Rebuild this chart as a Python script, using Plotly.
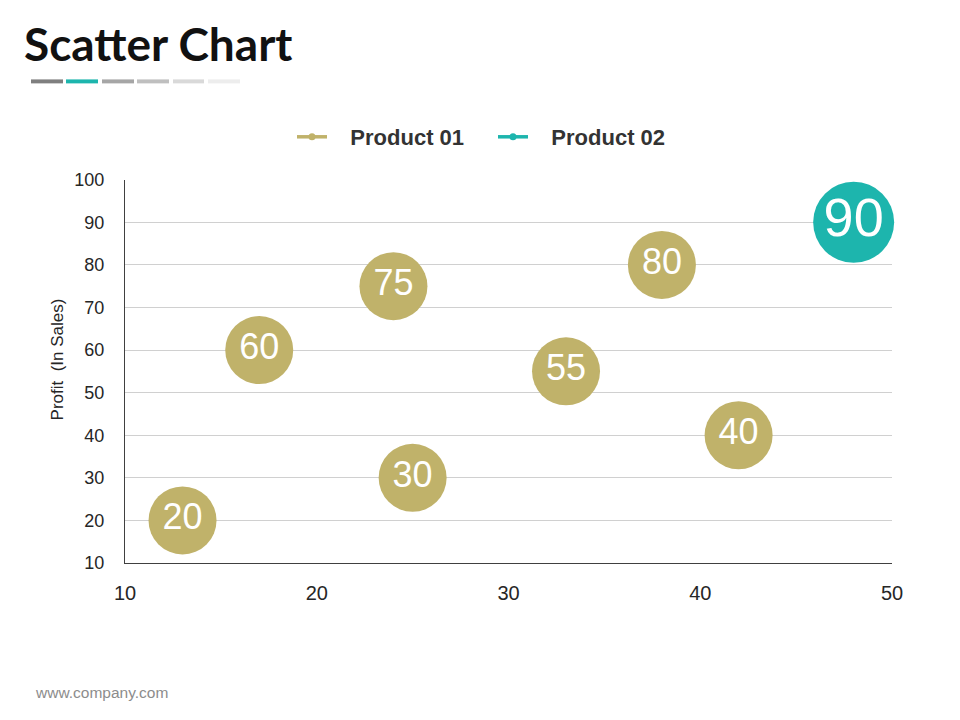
import plotly.graph_objects as go

# values
p1_x = [13, 17, 24, 25, 33, 38, 42]
p1_y = [20, 60, 75, 30, 55, 80, 40]
p2_x = [48]
p2_y = [90]

names = ['Product 01', 'Product 02']
gold = '#C0B26A'
teal = '#1DB5AD'

# page is drawn 8px in from the window corner
OFF = 8
W, H = 960, 720
# plot area in window pixels
L, R, T, B = 125 - OFF, 892 - OFF, 177 - OFF, 563 - OFF

def px(x):
    return (x - OFF - L) / (R - L)

def py(y):
    return (B - (y - OFF)) / (B - T)

fig = go.Figure()

fig.add_trace(go.Scatter(
    x=p1_x, y=p1_y,
    mode='markers+text',
    text=[str(v) for v in p1_y],
    textposition='middle center',
    textfont=dict(family='Liberation Sans, Arial', size=36, color='white'),
    marker=dict(size=68, color=gold, line=dict(width=0)),
    showlegend=False, hoverinfo='x+y'))

fig.add_trace(go.Scatter(
    x=p2_x, y=p2_y,
    mode='markers+text',
    text=[str(v) for v in p2_y],
    textposition='middle center',
    textfont=dict(family='Liberation Sans, Arial', size=54, color='white'),
    marker=dict(size=81, color=teal, line=dict(width=0)),
    showlegend=False, hoverinfo='x+y'))

# legend-only entries (line with small dot)
for nm, c in zip(names, [gold, teal]):
    fig.add_trace(go.Scatter(
        x=[None], y=[None], name='\u00a0\u00a0\u00a0<b>' + nm + '</b>',
        mode='lines+markers',
        line=dict(color=c, width=3.5),
        marker=dict(color=c, size=7)))

#---------

shapes = []
bars = [(31, 63, '#7F7F7F'), (66, 98, teal), (102, 134, '#A6A6A6'),
        (137, 169, '#BFBFBF'), (173, 204, '#D9D9D9'), (208, 240, '#EDEDED')]
for x0, x1, c in bars:
    shapes.append(dict(
        type='rect', xref='paper', yref='paper',
        x0=px(x0), x1=px(x1), y0=py(80), y1=py(76),
        fillcolor=c, line=dict(width=0), layer='above'))

annotations = [
    dict(text='<b>Scatter Chart</b>', xref='paper', yref='paper',
         x=px(22), y=py(40), xanchor='left', yanchor='middle',
         showarrow=False,
         font=dict(family='Lato, Open Sans', size=46, color='#111111')),
    dict(text='www.company.com', xref='paper', yref='paper',
         x=px(33), y=py(693), xanchor='left', yanchor='middle',
         showarrow=False,
         font=dict(family='Liberation Sans, Arial', size=15.5, color='#8C8C8C')),
    dict(text='Profit  (In Sales)', xref='paper', yref='paper',
         x=px(57), y=py(358), xanchor='center', yanchor='middle',
         textangle=-90, showarrow=False,
         font=dict(family='Liberation Sans, Arial', size=17, color='#262626')),
]

fig.update_layout(
    width=W, height=H,
    margin=dict(l=L, r=W - R, t=T, b=H - B, pad=0),
    paper_bgcolor='white', plot_bgcolor='white',
    font=dict(family='Liberation Sans, Arial', color='#404040'),
    showlegend=True,
    legend=dict(
        orientation='h', xref='container', yref='container',
        x=(292 - OFF) / W, y=1 - (137 - OFF) / H,
        xanchor='left', yanchor='middle',
        font=dict(family='Liberation Sans, Arial', size=22, color='#333333'),
        entrywidth=156, traceorder='normal'),
    xaxis=dict(
        range=[10, 50], dtick=10, tick0=10,
        showgrid=False, zeroline=False,
        showline=True, linecolor='#404040', linewidth=1,
        ticks='', ticklabelstandoff=12,
        tickfont=dict(size=20, color='#262626')),
    yaxis=dict(
        range=[10, 100], dtick=10, tick0=10,
        showgrid=True, gridcolor='#D0D0D0', gridwidth=1,
        zeroline=False,
        showline=True, linecolor='#404040', linewidth=1,
        ticks='', ticklabelstandoff=16,
        tickfont=dict(size=18, color='#262626')),
    shapes=shapes,
    annotations=annotations,
)

fig.update_traces(cliponaxis=False)

fig.write_html("out.html")
